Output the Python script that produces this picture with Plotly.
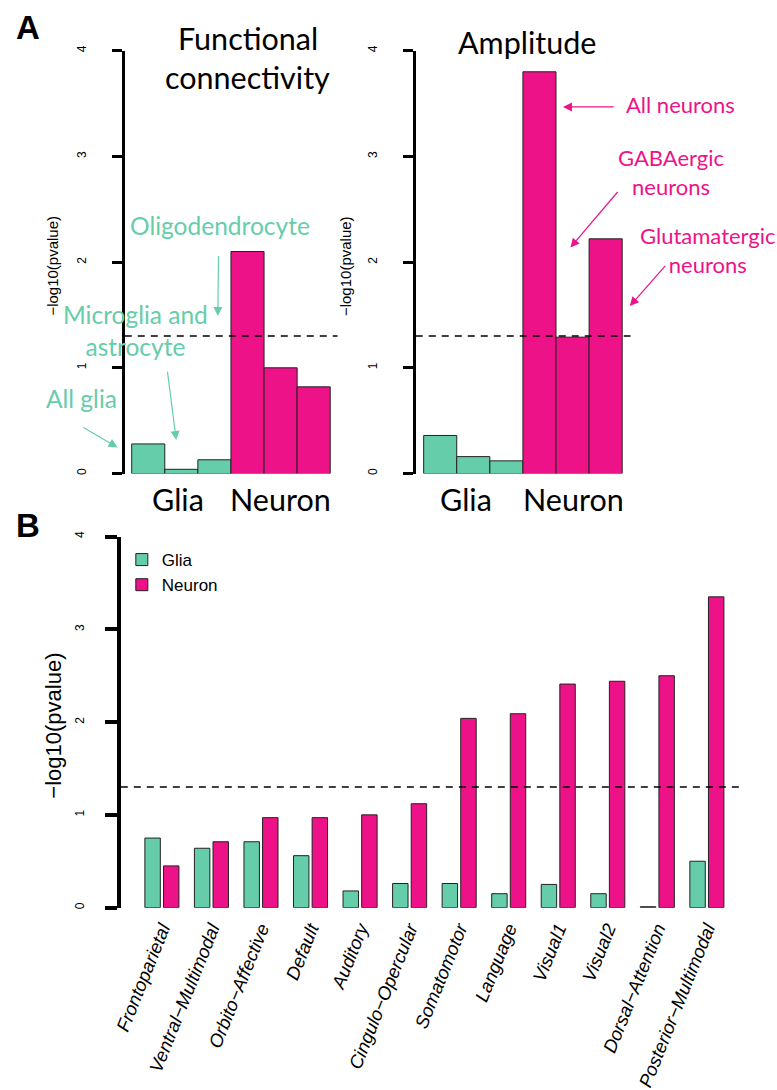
import plotly.graph_objects as go
import math

# ---------------- data ----------------
CELL_TYPES_GLIA = ["All glia", "Microglia and astrocyte", "Oligodendrocyte"]
CELL_TYPES_NEURON = ["All neurons", "GABAergic neurons", "Glutamatergic neurons"]

FC_GLIA = [0.28, 0.04, 0.13]
FC_NEURON = [2.10, 1.00, 0.82]

AMP_GLIA = [0.36, 0.16, 0.12]
AMP_NEURON = [3.80, 1.29, 2.22]

NETWORKS = ["Frontoparietal", "Ventral-Multimodal", "Orbito-Affective", "Default",
            "Auditory", "Cingulo-Opercular", "Somatomotor", "Language", "Visual1",
            "Visual2", "Dorsal-Attention", "Posterior-Multimodal"]
NET_GLIA = [0.75, 0.64, 0.71, 0.56, 0.18, 0.26, 0.26, 0.15, 0.25, 0.15, 0.01, 0.50]
NET_NEURON = [0.45, 0.71, 0.97, 0.97, 1.00, 1.12, 2.04, 2.09, 2.41, 2.44, 2.50, 3.35]

Y_TICKS = [0, 1, 2, 3, 4]
SIG_THRESHOLD = -math.log10(0.05)

# ---------------- style ----------------
GREEN = "#66CDAA"
PINK = "#EE1289"
W, H = 777, 1090
RFONT = "Liberation Sans, Arial, sans-serif"
CFONT = "Lato, Carlito, Calibri, sans-serif"
TEXT_DY = -4.5  # vertical correction for text anchoring


def px(x):
    return x / W


def py(y):
    return 1 - y / H


fig = go.Figure()

glia_idx = list(range(len(FC_GLIA)))
neuron_idx = [len(FC_GLIA) + i for i in range(len(FC_NEURON))]

bar_line = dict(color="#222222", width=1)

for xa, ya, g, n in [("x", "y", FC_GLIA, FC_NEURON), ("x2", "y2", AMP_GLIA, AMP_NEURON)]:
    fig.add_trace(go.Bar(x=glia_idx, y=g, width=1, marker=dict(color=GREEN, line=bar_line),
                         xaxis=xa, yaxis=ya, showlegend=False, hovertext=CELL_TYPES_GLIA))
    fig.add_trace(go.Bar(x=neuron_idx, y=n, width=1, marker=dict(color=PINK, line=bar_line),
                         xaxis=xa, yaxis=ya, showlegend=False, hovertext=CELL_TYPES_NEURON))

net_idx = list(range(len(NETWORKS)))
BW = 0.3116
fig.add_trace(go.Bar(x=net_idx, y=NET_GLIA, width=BW, offset=-0.3436, name="Glia",
                     marker=dict(color=GREEN, line=bar_line), xaxis="x3", yaxis="y3"))
fig.add_trace(go.Bar(x=net_idx, y=NET_NEURON, width=BW, offset=0.032, name="Neuron",
                     marker=dict(color=PINK, line=bar_line), xaxis="x3", yaxis="y3"))

top_y_dom = [py(472), py(46)]
yaxis_common = dict(range=[0, 4], tickvals=Y_TICKS, showline=True, linewidth=3, linecolor="black",
                    ticks="outside", ticklen=10, tickwidth=3, tickcolor="black", tickangle=-90,
                    tickfont=dict(family=RFONT, size=12, color="black"), showgrid=False,
                    zeroline=False, ticklabelstandoff=21)
xaxis_common = dict(showline=False, showticklabels=False, ticks="", showgrid=False, zeroline=False)

fig.update_layout(
    width=W, height=H, autosize=False,
    margin=dict(l=0, r=0, t=0, b=0),
    paper_bgcolor="white", plot_bgcolor="white",
    barmode="overlay",
    xaxis=dict(domain=[px(118), px(333)], range=[-0.709, 5.722], anchor="y", **xaxis_common),
    yaxis=dict(domain=top_y_dom, anchor="x", **yaxis_common),
    xaxis2=dict(domain=[px(412), px(629)], range=[-0.739, 5.752], anchor="y2", **xaxis_common),
    yaxis2=dict(domain=top_y_dom, anchor="x2", **yaxis_common),
    xaxis3=dict(domain=[px(114), px(743.3)], range=[-0.829, 11.742], anchor="y3",
                showline=False, showgrid=False, zeroline=False,
                tickvals=net_idx,
                ticktext=["<i>" + n.replace("-", "\u2212") + "</i>" for n in NETWORKS],
                tickangle=-68, ticks="outside", ticklen=2, tickcolor="rgba(0,0,0,0)",
                tickfont=dict(family=RFONT, size=18.5, color="black")),
    yaxis3=dict(domain=[py(909.3), py(535.5)], anchor="x3",
                **{**yaxis_common, "ticklen": 12, "linewidth": 4, "tickwidth": 4,
                   "ticklabelstandoff": 16}),
    legend=dict(x=px(115), y=py(541), xanchor="left", yanchor="top",
                font=dict(family=RFONT, size=17, color="black"), bgcolor="rgba(0,0,0,0)",
                tracegroupgap=0),
    showlegend=True,
)

for xr, yr in [("x domain", "y"), ("x2 domain", "y2"), ("x3 domain", "y3")]:
    fig.add_shape(type="line", xref=xr, yref=yr, x0=0, x1=1, y0=SIG_THRESHOLD, y1=SIG_THRESHOLD,
                  line=dict(color="black", width=1.6, dash="7px,6px"))

ann = []


def ptxt(text, x, y, size, color="black", family=CFONT, angle=0):
    return dict(text=text, xref="paper", yref="paper", x=px(x), y=py(y + TEXT_DY),
                showarrow=False, xanchor="center", yanchor="middle", textangle=angle,
                font=dict(family=family, size=size, color=color))


def parrow(x0, y0, x1, y1, color):
    # tail (x0, y0) -> head (x1, y1), in pixel positions on the page
    return dict(text="", xref="paper", yref="paper", x=px(x1), y=py(y1),
                ax=x0 - x1, ay=y0 - y1, axref="pixel", ayref="pixel",
                showarrow=True, arrowhead=2, arrowsize=1.5, arrowwidth=1.2, arrowcolor=color,
                standoff=0, startstandoff=0)


def ytitle(x, y, size):
    return dict(text="\u2212log10(pvalue)", xref="paper", yref="paper", x=px(x), y=py(y),
                xanchor="center", yanchor="middle", showarrow=False, textangle=-90,
                font=dict(family=RFONT, size=size, color="black"))


ann.append(ptxt("<b>A</b>", 20, 27, 33, family=RFONT))
ann.append(ptxt("<b>B</b>", 20, 529, 33, family=RFONT))
ann.append(ptxt("Functional", 242, 38, 30.5))
ann.append(ptxt("connectivity", 242, 77, 30.5))
ann.append(ptxt("Amplitude", 524, 42, 30.5))
ann.append(ytitle(45, 263, 15))
ann.append(ytitle(340.5, 263, 15))
ann.append(ytitle(46, 726.5, 22))

# group labels under top panels
for xr, gx, nx in [("x", 0.9, 4.0), ("x2", 0.77, 4.02)]:
    for lab, xx in [("Glia", gx), ("Neuron", nx)]:
        ann.append(dict(text=lab, xref=xr, yref="paper", x=xx, y=py(502 + TEXT_DY),
                        showarrow=False, xanchor="center", yanchor="middle",
                        font=dict(family=CFONT, size=30.5, color="black")))

GS, PS = 24.5, 22
ann.append(ptxt("Oligodendrocyte", 214, 226.7, GS, GREEN))
ann.append(parrow(212.7, 251.7, 212, 313.3, GREEN))
ann.append(ptxt("Microglia and<br>astrocyte", 129, 332, GS, GREEN))
ann.append(parrow(161, 368.3, 170, 438.3, GREEN))
ann.append(ptxt("All glia", 74, 401, GS, GREEN))
ann.append(parrow(75, 425, 110.7, 445.7, GREEN))

ann.append(ptxt("All neurons", 679, 105, PS, PINK))
ann.append(parrow(613, 102.7, 560.7, 102.7, PINK))
ann.append(ptxt("GABAergic<br>neurons", 669.5, 173, PS, PINK))
ann.append(parrow(616.7, 187.3, 568.3, 244.3, PINK))
ann.append(ptxt("Glutamatergic<br>neurons", 707.5, 251, PS, PINK))
ann.append(parrow(665, 261.7, 628.3, 303.3, PINK))

fig.update_layout(annotations=ann)

fig.write_html("out.html", config={"displayModeBar": False},
               post_script="document.body.style.margin='0px';")
